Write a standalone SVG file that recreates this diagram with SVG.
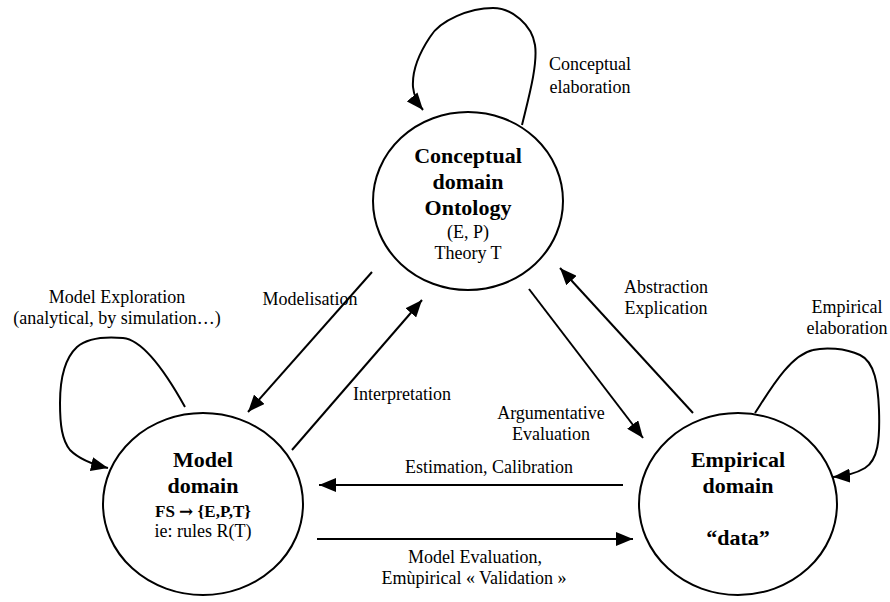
<svg xmlns="http://www.w3.org/2000/svg" width="890" height="602" viewBox="0 0 890 602">
<style>
text{font-family:"Liberation Serif","Times New Roman",serif;fill:#000}
.lbl{font-size:18px}
.b{font-size:22px;font-weight:bold;text-anchor:middle}
.s{font-size:18px;text-anchor:middle}
.sb{font-size:17px;font-weight:bold;text-anchor:middle}
.ar{font-family:"DejaVu Serif",serif}
.m{text-anchor:middle}
.node{fill:#fff;stroke:#000;stroke-width:2}
.c{fill:none;stroke:#000;stroke-width:2;marker-end:url(#ah)}
</style>
<defs>
<marker id="ah" markerUnits="userSpaceOnUse" markerWidth="17" markerHeight="14" refX="17" refY="7" orient="auto">
<path d="M0,0 L17,7 L0,14 z" fill="#000"/>
</marker>
</defs>
<rect width="890" height="602" fill="#fff"/>
<g id="connectors">
<path class="c" d="M522,125 C528,100 538,65 535,45 C532,25 512,8 493,8 C470,8 440,20 430,37 C418,55 412,72 413,87 C414,97 418,104 423,110"/>
<path class="c" d="M185,407 C170,380 145,340 123,338 C100,336 85,340 77,347 C63,360 60,385 60,403 C60,425 62,440 70,450 C80,460 95,465 108,468"/>
<path class="c" d="M755,413 C770,390 790,355 813,350 C825,347 845,348 860,355 C875,362 878,385 879,410 C880,440 878,460 865,468 C855,474 845,476 833,477"/>
<path class="c" d="M372,272 L248,412"/>
<path class="c" d="M292,450 L422,300"/>
<path class="c" d="M529,289 L643,438"/>
<path class="c" d="M693,413 L560,268"/>
<path class="c" d="M623,485 L319,485"/>
<path class="c" d="M317,539 L633,539"/>
</g>
<g id="labels">
<text class="lbl m" x="590" y="70">Conceptual</text>
<text class="lbl m" x="590" y="93">elaboration</text>
<text class="lbl m" x="310" y="305">Modelisation</text>
<text class="lbl m" x="117" y="303">Model Exploration</text>
<text class="lbl m" x="117" y="324">(analytical, by simulation…)</text>
<text class="lbl m" x="666" y="293">Abstraction</text>
<text class="lbl m" x="666" y="314">Explication</text>
<text class="lbl m" x="847" y="313">Empirical</text>
<text class="lbl m" x="847" y="334">elaboration</text>
<text class="lbl" x="353" y="400">Interpretation</text>
<text class="lbl m" x="551" y="419">Argumentative</text>
<text class="lbl m" x="551" y="440">Evaluation</text>
<text class="lbl m" x="489" y="473">Estimation, Calibration</text>
<text class="lbl m" x="475" y="563">Model Evaluation,</text>
<text class="lbl m" x="474" y="584">Emùpirical « Validation »</text>
</g>
<g id="conceptual">
<ellipse class="node" cx="468" cy="201" rx="95" ry="89"/>
<text class="b" x="468" y="163">Conceptual</text>
<text class="b" x="468" y="189">domain</text>
<text class="b" x="468" y="215">Ontology</text>
<text class="s" x="468" y="238">(E, P)</text>
<text class="s" x="468" y="259">Theory T</text>
</g>
<g id="model">
<ellipse class="node" cx="203" cy="504" rx="100" ry="91"/>
<text class="b" x="203" y="467">Model</text>
<text class="b" x="203" y="493">domain</text>
<text class="sb" x="203" y="517">FS <tspan class="ar">→</tspan>  {E,P,T}</text>
<text class="s" x="203" y="537">ie: rules R(T)</text>
</g>
<g id="empirical">
<ellipse class="node" cx="738" cy="504" rx="99" ry="91"/>
<text class="b" x="738" y="467">Empirical</text>
<text class="b" x="738" y="493">domain</text>
<text class="b" x="738" y="545">“data”</text>
</g>
</svg>
